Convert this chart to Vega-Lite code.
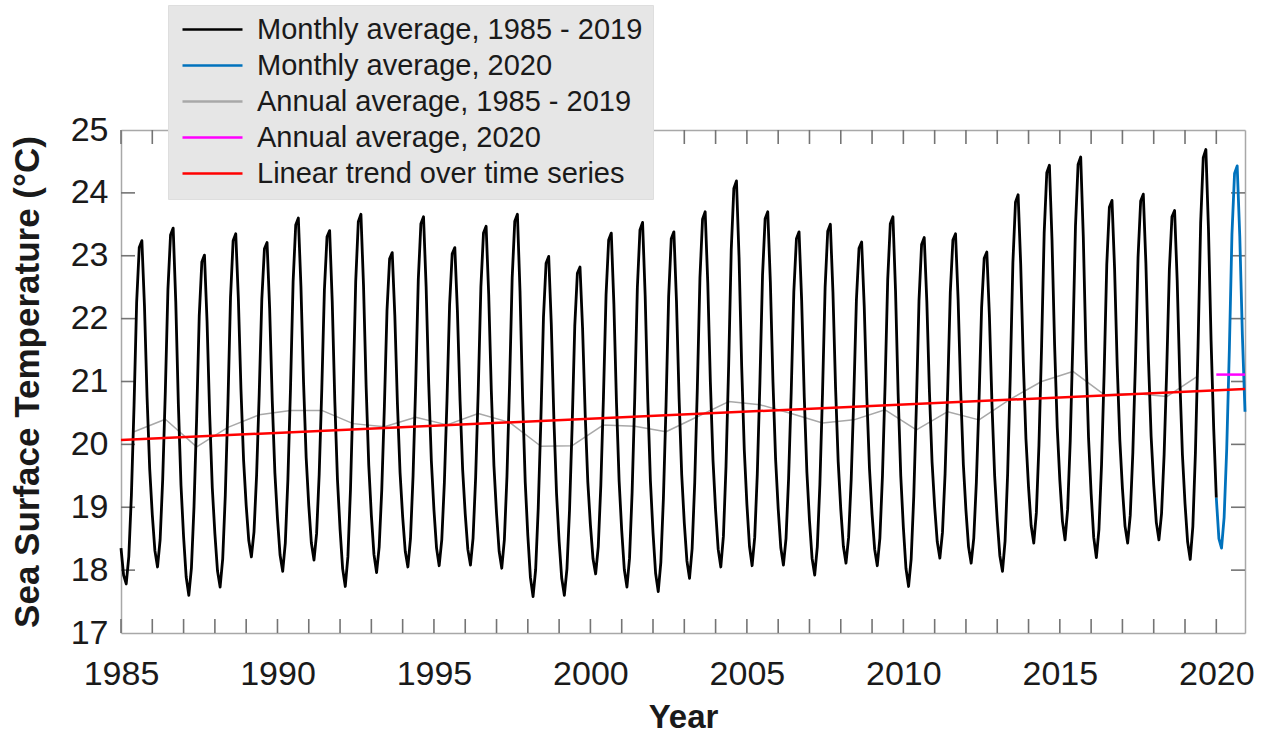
{
  "$schema": "https://vega.github.io/schema/vega-lite/v6.json",
  "width": 1124,
  "height": 503,
  "autosize": "none",
  "padding": {"left": 121, "top": 130, "right": 20, "bottom": 101},
  "background": "white",
  "datasets": {
    "xticks": [{"yr":1985},{"yr":1986},{"yr":1987},{"yr":1988},{"yr":1989},{"yr":1990},{"yr":1991},{"yr":1992},{"yr":1993},{"yr":1994},{"yr":1995},{"yr":1996},{"yr":1997},{"yr":1998},{"yr":1999},{"yr":2000},{"yr":2001},{"yr":2002},{"yr":2003},{"yr":2004},{"yr":2005},{"yr":2006},{"yr":2007},{"yr":2008},{"yr":2009},{"yr":2010},{"yr":2011},{"yr":2012},{"yr":2013},{"yr":2014},{"yr":2015},{"yr":2016},{"yr":2017},{"yr":2018},{"yr":2019},{"yr":2020}],
    "yticks": [{"val":18},{"val":19},{"val":20},{"val":21},{"val":22},{"val":23},{"val":24}],
    "monthly": [
      {"t":1985,"v":18.35},{"t":1985.083,"v":17.92},{"t":1985.167,"v":17.78},{"t":1985.25,"v":18.22},{"t":1985.333,"v":19.2},{"t":1985.417,"v":20.62},{"t":1985.5,"v":22.26},{"t":1985.583,"v":23.13},{"t":1985.667,"v":23.24},{"t":1985.75,"v":22.2},{"t":1985.833,"v":20.75},{"t":1985.917,"v":19.61},
      {"t":1986,"v":18.88},{"t":1986.083,"v":18.31},{"t":1986.167,"v":18.05},{"t":1986.25,"v":18.48},{"t":1986.333,"v":19.45},{"t":1986.417,"v":20.85},{"t":1986.5,"v":22.47},{"t":1986.583,"v":23.33},{"t":1986.667,"v":23.44},{"t":1986.75,"v":22.27},{"t":1986.833,"v":20.64},{"t":1986.917,"v":19.35},
      {"t":1987,"v":18.53},{"t":1987.083,"v":17.89},{"t":1987.167,"v":17.6},{"t":1987.25,"v":18.03},{"t":1987.333,"v":19.01},{"t":1987.417,"v":20.41},{"t":1987.5,"v":22.04},{"t":1987.583,"v":22.9},{"t":1987.667,"v":23.01},{"t":1987.75,"v":21.95},{"t":1987.833,"v":20.48},{"t":1987.917,"v":19.31},
      {"t":1988,"v":18.58},{"t":1988.083,"v":17.99},{"t":1988.167,"v":17.73},{"t":1988.25,"v":18.18},{"t":1988.333,"v":19.19},{"t":1988.417,"v":20.65},{"t":1988.5,"v":22.34},{"t":1988.583,"v":23.24},{"t":1988.667,"v":23.35},{"t":1988.75,"v":22.32},{"t":1988.833,"v":20.88},{"t":1988.917,"v":19.75},
      {"t":1989,"v":19.03},{"t":1989.083,"v":18.47},{"t":1989.167,"v":18.21},{"t":1989.25,"v":18.61},{"t":1989.333,"v":19.51},{"t":1989.417,"v":20.81},{"t":1989.5,"v":22.31},{"t":1989.583,"v":23.11},{"t":1989.667,"v":23.21},{"t":1989.75,"v":22.16},{"t":1989.833,"v":20.7},{"t":1989.917,"v":19.55},
      {"t":1990,"v":18.82},{"t":1990.083,"v":18.24},{"t":1990.167,"v":17.98},{"t":1990.25,"v":18.43},{"t":1990.333,"v":19.44},{"t":1990.417,"v":20.9},{"t":1990.5,"v":22.59},{"t":1990.583,"v":23.49},{"t":1990.667,"v":23.6},{"t":1990.75,"v":22.51},{"t":1990.833,"v":20.99},{"t":1990.917,"v":19.79},
      {"t":1991,"v":19.03},{"t":1991.083,"v":18.43},{"t":1991.167,"v":18.16},{"t":1991.25,"v":18.58},{"t":1991.333,"v":19.52},{"t":1991.417,"v":20.89},{"t":1991.5,"v":22.46},{"t":1991.583,"v":23.3},{"t":1991.667,"v":23.4},{"t":1991.75,"v":22.27},{"t":1991.833,"v":20.68},{"t":1991.917,"v":19.44},
      {"t":1992,"v":18.65},{"t":1992.083,"v":18.02},{"t":1992.167,"v":17.74},{"t":1992.25,"v":18.21},{"t":1992.333,"v":19.28},{"t":1992.417,"v":20.82},{"t":1992.5,"v":22.59},{"t":1992.583,"v":23.54},{"t":1992.667,"v":23.66},{"t":1992.75,"v":22.52},{"t":1992.833,"v":20.92},{"t":1992.917,"v":19.67},
      {"t":1993,"v":18.87},{"t":1993.083,"v":18.25},{"t":1993.167,"v":17.96},{"t":1993.25,"v":18.37},{"t":1993.333,"v":19.28},{"t":1993.417,"v":20.61},{"t":1993.5,"v":22.13},{"t":1993.583,"v":22.95},{"t":1993.667,"v":23.05},{"t":1993.75,"v":22.05},{"t":1993.833,"v":20.65},{"t":1993.917,"v":19.55},
      {"t":1994,"v":18.85},{"t":1994.083,"v":18.3},{"t":1994.167,"v":18.05},{"t":1994.25,"v":18.5},{"t":1994.333,"v":19.5},{"t":1994.417,"v":20.95},{"t":1994.5,"v":22.62},{"t":1994.583,"v":23.51},{"t":1994.667,"v":23.62},{"t":1994.75,"v":22.51},{"t":1994.833,"v":20.96},{"t":1994.917,"v":19.74},
      {"t":1995,"v":18.96},{"t":1995.083,"v":18.35},{"t":1995.167,"v":18.07},{"t":1995.25,"v":18.48},{"t":1995.333,"v":19.39},{"t":1995.417,"v":20.7},{"t":1995.5,"v":22.22},{"t":1995.583,"v":23.03},{"t":1995.667,"v":23.13},{"t":1995.75,"v":22.12},{"t":1995.833,"v":20.71},{"t":1995.917,"v":19.6},
      {"t":1996,"v":18.89},{"t":1996.083,"v":18.33},{"t":1996.167,"v":18.08},{"t":1996.25,"v":18.51},{"t":1996.333,"v":19.48},{"t":1996.417,"v":20.88},{"t":1996.5,"v":22.5},{"t":1996.583,"v":23.36},{"t":1996.667,"v":23.47},{"t":1996.75,"v":22.38},{"t":1996.833,"v":20.86},{"t":1996.917,"v":19.66},
      {"t":1997,"v":18.9},{"t":1997.083,"v":18.3},{"t":1997.167,"v":18.03},{"t":1997.25,"v":18.48},{"t":1997.333,"v":19.49},{"t":1997.417,"v":20.96},{"t":1997.5,"v":22.65},{"t":1997.583,"v":23.55},{"t":1997.667,"v":23.66},{"t":1997.75,"v":22.44},{"t":1997.833,"v":20.74},{"t":1997.917,"v":19.4},
      {"t":1998,"v":18.55},{"t":1998.083,"v":17.88},{"t":1998.167,"v":17.58},{"t":1998.25,"v":18.01},{"t":1998.333,"v":18.99},{"t":1998.417,"v":20.39},{"t":1998.5,"v":22.02},{"t":1998.583,"v":22.88},{"t":1998.667,"v":22.99},{"t":1998.75,"v":21.91},{"t":1998.833,"v":20.4},{"t":1998.917,"v":19.22},
      {"t":1999,"v":18.46},{"t":1999.083,"v":17.87},{"t":1999.167,"v":17.6},{"t":1999.25,"v":18.02},{"t":1999.333,"v":18.96},{"t":1999.417,"v":20.31},{"t":1999.5,"v":21.88},{"t":1999.583,"v":22.72},{"t":1999.667,"v":22.82},{"t":1999.75,"v":21.84},{"t":1999.833,"v":20.48},{"t":1999.917,"v":19.4},
      {"t":2000,"v":18.72},{"t":2000.083,"v":18.18},{"t":2000.167,"v":17.94},{"t":2000.25,"v":18.37},{"t":2000.333,"v":19.35},{"t":2000.417,"v":20.76},{"t":2000.5,"v":22.38},{"t":2000.583,"v":23.25},{"t":2000.667,"v":23.36},{"t":2000.75,"v":22.23},{"t":2000.833,"v":20.66},{"t":2000.917,"v":19.42},
      {"t":2001,"v":18.63},{"t":2001.083,"v":18.01},{"t":2001.167,"v":17.73},{"t":2001.25,"v":18.19},{"t":2001.333,"v":19.24},{"t":2001.417,"v":20.75},{"t":2001.5,"v":22.49},{"t":2001.583,"v":23.41},{"t":2001.667,"v":23.53},{"t":2001.75,"v":22.36},{"t":2001.833,"v":20.71},{"t":2001.917,"v":19.42},
      {"t":2002,"v":18.6},{"t":2002.083,"v":17.95},{"t":2002.167,"v":17.66},{"t":2002.25,"v":18.12},{"t":2002.333,"v":19.15},{"t":2002.417,"v":20.63},{"t":2002.5,"v":22.35},{"t":2002.583,"v":23.27},{"t":2002.667,"v":23.38},{"t":2002.75,"v":22.28},{"t":2002.833,"v":20.74},{"t":2002.917,"v":19.52},
      {"t":2003,"v":18.75},{"t":2003.083,"v":18.15},{"t":2003.167,"v":17.87},{"t":2003.25,"v":18.34},{"t":2003.333,"v":19.39},{"t":2003.417,"v":20.9},{"t":2003.5,"v":22.65},{"t":2003.583,"v":23.58},{"t":2003.667,"v":23.7},{"t":2003.75,"v":22.57},{"t":2003.833,"v":20.99},{"t":2003.917,"v":19.75},
      {"t":2004,"v":18.95},{"t":2004.083,"v":18.33},{"t":2004.167,"v":18.05},{"t":2004.25,"v":18.54},{"t":2004.333,"v":19.65},{"t":2004.417,"v":21.24},{"t":2004.5,"v":23.09},{"t":2004.583,"v":24.07},{"t":2004.667,"v":24.19},{"t":2004.75,"v":22.97},{"t":2004.833,"v":21.25},{"t":2004.917,"v":19.91},
      {"t":2005,"v":19.05},{"t":2005.083,"v":18.38},{"t":2005.167,"v":18.07},{"t":2005.25,"v":18.52},{"t":2005.333,"v":19.53},{"t":2005.417,"v":21},{"t":2005.5,"v":22.69},{"t":2005.583,"v":23.59},{"t":2005.667,"v":23.7},{"t":2005.75,"v":22.58},{"t":2005.833,"v":21},{"t":2005.917,"v":19.77},
      {"t":2006,"v":18.98},{"t":2006.083,"v":18.36},{"t":2006.167,"v":18.08},{"t":2006.25,"v":18.5},{"t":2006.333,"v":19.46},{"t":2006.417,"v":20.84},{"t":2006.5,"v":22.43},{"t":2006.583,"v":23.27},{"t":2006.667,"v":23.38},{"t":2006.75,"v":22.29},{"t":2006.833,"v":20.76},{"t":2006.917,"v":19.56},
      {"t":2007,"v":18.79},{"t":2007.083,"v":18.19},{"t":2007.167,"v":17.92},{"t":2007.25,"v":18.37},{"t":2007.333,"v":19.37},{"t":2007.417,"v":20.82},{"t":2007.5,"v":22.5},{"t":2007.583,"v":23.39},{"t":2007.667,"v":23.5},{"t":2007.75,"v":22.42},{"t":2007.833,"v":20.91},{"t":2007.917,"v":19.73},
      {"t":2008,"v":18.97},{"t":2008.083,"v":18.38},{"t":2008.167,"v":18.11},{"t":2008.25,"v":18.52},{"t":2008.333,"v":19.44},{"t":2008.417,"v":20.77},{"t":2008.5,"v":22.3},{"t":2008.583,"v":23.12},{"t":2008.667,"v":23.22},{"t":2008.75,"v":22.19},{"t":2008.833,"v":20.75},{"t":2008.917,"v":19.62},
      {"t":2009,"v":18.89},{"t":2009.083,"v":18.33},{"t":2009.167,"v":18.07},{"t":2009.25,"v":18.51},{"t":2009.333,"v":19.51},{"t":2009.417,"v":20.96},{"t":2009.5,"v":22.62},{"t":2009.583,"v":23.51},{"t":2009.667,"v":23.62},{"t":2009.75,"v":22.44},{"t":2009.833,"v":20.8},{"t":2009.917,"v":19.5},
      {"t":2010,"v":18.68},{"t":2010.083,"v":18.03},{"t":2010.167,"v":17.74},{"t":2010.25,"v":18.18},{"t":2010.333,"v":19.18},{"t":2010.417,"v":20.63},{"t":2010.5,"v":22.29},{"t":2010.583,"v":23.18},{"t":2010.667,"v":23.29},{"t":2010.75,"v":22.27},{"t":2010.833,"v":20.84},{"t":2010.917,"v":19.72},
      {"t":2011,"v":19.01},{"t":2011.083,"v":18.45},{"t":2011.167,"v":18.19},{"t":2011.25,"v":18.6},{"t":2011.333,"v":19.53},{"t":2011.417,"v":20.87},{"t":2011.5,"v":22.42},{"t":2011.583,"v":23.25},{"t":2011.667,"v":23.35},{"t":2011.75,"v":22.3},{"t":2011.833,"v":20.84},{"t":2011.917,"v":19.68},
      {"t":2012,"v":18.95},{"t":2012.083,"v":18.37},{"t":2012.167,"v":18.11},{"t":2012.25,"v":18.51},{"t":2012.333,"v":19.4},{"t":2012.417,"v":20.68},{"t":2012.5,"v":22.17},{"t":2012.583,"v":22.96},{"t":2012.667,"v":23.06},{"t":2012.75,"v":22.04},{"t":2012.833,"v":20.62},{"t":2012.917,"v":19.5},
      {"t":2013,"v":18.79},{"t":2013.083,"v":18.23},{"t":2013.167,"v":17.98},{"t":2013.25,"v":18.46},{"t":2013.333,"v":19.54},{"t":2013.417,"v":21.1},{"t":2013.5,"v":22.89},{"t":2013.583,"v":23.85},{"t":2013.667,"v":23.97},{"t":2013.75,"v":22.86},{"t":2013.833,"v":21.31},{"t":2013.917,"v":20.09},
      {"t":2014,"v":19.32},{"t":2014.083,"v":18.71},{"t":2014.167,"v":18.43},{"t":2014.25,"v":18.91},{"t":2014.333,"v":19.99},{"t":2014.417,"v":21.56},{"t":2014.5,"v":23.36},{"t":2014.583,"v":24.32},{"t":2014.667,"v":24.44},{"t":2014.75,"v":23.25},{"t":2014.833,"v":21.58},{"t":2014.917,"v":20.27},
      {"t":2015,"v":19.43},{"t":2015.083,"v":18.78},{"t":2015.167,"v":18.48},{"t":2015.25,"v":18.97},{"t":2015.333,"v":20.06},{"t":2015.417,"v":21.65},{"t":2015.5,"v":23.47},{"t":2015.583,"v":24.45},{"t":2015.667,"v":24.57},{"t":2015.75,"v":23.3},{"t":2015.833,"v":21.51},{"t":2015.917,"v":20.11},
      {"t":2016,"v":19.22},{"t":2016.083,"v":18.52},{"t":2016.167,"v":18.2},{"t":2016.25,"v":18.65},{"t":2016.333,"v":19.68},{"t":2016.417,"v":21.15},{"t":2016.5,"v":22.86},{"t":2016.583,"v":23.77},{"t":2016.667,"v":23.88},{"t":2016.75,"v":22.79},{"t":2016.833,"v":21.26},{"t":2016.917,"v":20.07},
      {"t":2017,"v":19.3},{"t":2017.083,"v":18.7},{"t":2017.167,"v":18.43},{"t":2017.25,"v":18.87},{"t":2017.333,"v":19.87},{"t":2017.417,"v":21.32},{"t":2017.5,"v":22.98},{"t":2017.583,"v":23.87},{"t":2017.667,"v":23.98},{"t":2017.75,"v":22.88},{"t":2017.833,"v":21.34},{"t":2017.917,"v":20.13},
      {"t":2018,"v":19.36},{"t":2018.083,"v":18.76},{"t":2018.167,"v":18.48},{"t":2018.25,"v":18.9},{"t":2018.333,"v":19.84},{"t":2018.417,"v":21.21},{"t":2018.5,"v":22.78},{"t":2018.583,"v":23.62},{"t":2018.667,"v":23.72},{"t":2018.75,"v":22.61},{"t":2018.833,"v":21.06},{"t":2018.917,"v":19.84},
      {"t":2019,"v":19.06},{"t":2019.083,"v":18.45},{"t":2019.167,"v":18.17},{"t":2019.25,"v":18.69},{"t":2019.333,"v":19.87},{"t":2019.417,"v":21.56},{"t":2019.5,"v":23.52},{"t":2019.583,"v":24.56},{"t":2019.667,"v":24.69},{"t":2019.75,"v":23.42},{"t":2019.833,"v":21.65},{"t":2019.917,"v":20.25},
      {"t":2020,"v":19.15}
    ],
    "monthly2020": [
      {"t":2020,"v":19.15},{"t":2020.083,"v":18.5},{"t":2020.167,"v":18.35},{"t":2020.25,"v":18.84},{"t":2020.333,"v":19.93},{"t":2020.417,"v":21.51},{"t":2020.5,"v":23.34},{"t":2020.583,"v":24.31},{"t":2020.667,"v":24.43},{"t":2020.75,"v":23.31},{"t":2020.833,"v":21.74},{"t":2020.917,"v":20.52}
    ],
    "annual": [
      {"t":1985.417,"v":20.2},{"t":1986.417,"v":20.4},{"t":1987.417,"v":19.96},{"t":1988.417,"v":20.27},{"t":1989.417,"v":20.47},{"t":1990.417,"v":20.54},{"t":1991.417,"v":20.54},{"t":1992.417,"v":20.33},{"t":1993.417,"v":20.28},{"t":1994.417,"v":20.43},{"t":1995.417,"v":20.31},{"t":1996.417,"v":20.49},{"t":1997.417,"v":20.35},{"t":1998.417,"v":19.97},{"t":1999.417,"v":19.98},{"t":2000.417,"v":20.31},{"t":2001.417,"v":20.29},{"t":2002.417,"v":20.2},{"t":2003.417,"v":20.44},{"t":2004.417,"v":20.68},{"t":2005.417,"v":20.63},{"t":2006.417,"v":20.49},{"t":2007.417,"v":20.34},{"t":2008.417,"v":20.39},{"t":2009.417,"v":20.55},{"t":2010.417,"v":20.23},{"t":2011.417,"v":20.52},{"t":2012.417,"v":20.39},{"t":2013.417,"v":20.72},{"t":2014.417,"v":21},{"t":2015.417,"v":21.16},{"t":2016.417,"v":20.79},{"t":2017.417,"v":20.81},{"t":2018.417,"v":20.76},{"t":2019.417,"v":21.09}
    ],
    "annual2020": [{"t":2020,"v":21.11},{"t":2020.917,"v":21.11}],
    "trend": [{"t":1985,"v":20.07},{"t":2020.917,"v":20.88}]
  },
  "layer": [
    {
      "data": {"name": "xticks"},
      "mark": {"type": "tick", "orient": "vertical", "size": 14, "thickness": 1.6, "color": "#747474", "opacity": 1, "yOffset": -7},
      "encoding": {
        "x": {"field": "yr", "type": "quantitative", "axis": null, "scale": {"domain": [1985, 2020.917], "nice": false, "zero": false}},
        "y": {"datum": 17, "type": "quantitative", "axis": null}
      }
    },
    {
      "data": {"name": "xticks"},
      "mark": {"type": "tick", "orient": "vertical", "size": 14, "thickness": 1.6, "color": "#747474", "opacity": 1, "yOffset": 7},
      "encoding": {
        "x": {"field": "yr", "type": "quantitative", "axis": null},
        "y": {"datum": 25, "type": "quantitative", "axis": null}
      }
    },
    {
      "data": {"name": "yticks"},
      "mark": {"type": "tick", "orient": "horizontal", "size": 14, "thickness": 1.6, "color": "#747474", "opacity": 1, "xOffset": 7},
      "encoding": {
        "y": {"field": "val", "type": "quantitative", "axis": null, "scale": {"domain": [17, 25], "nice": false, "zero": false}},
        "x": {"datum": 1985, "type": "quantitative", "axis": null}
      }
    },
    {
      "data": {"name": "yticks"},
      "mark": {"type": "tick", "orient": "horizontal", "size": 14, "thickness": 1.6, "color": "#747474", "opacity": 1, "xOffset": -7},
      "encoding": {
        "y": {"field": "val", "type": "quantitative", "axis": null},
        "x": {"datum": 2020.917, "type": "quantitative", "axis": null}
      }
    },
    {
      "data": {"name": "annual"},
      "mark": {"type": "line", "strokeWidth": 1.5, "strokeJoin": "round"},
      "encoding": {
        "x": {"field": "t", "type": "quantitative", "scale": {"domain": [1985, 2020.917], "nice": false, "zero": false},
          "axis": {"orient": "top", "values": [1985, 2020], "labels": false, "title": null, "ticks": false, "domain": true, "grid": false}},
        "y": {"field": "v", "type": "quantitative", "scale": {"domain": [17, 25], "nice": false, "zero": false},
          "axis": {"orient": "right", "values": [17, 25], "labels": false, "title": null, "ticks": false, "domain": true, "grid": false}},
        "color": {"datum": "Annual average, 1985 - 2019", "type": "nominal"}
      }
    },
    {
      "data": {"name": "monthly"},
      "mark": {"type": "line", "strokeWidth": 2.8, "strokeJoin": "round"},
      "encoding": {
        "x": {"field": "t", "type": "quantitative", "scale": {"domain": [1985, 2020.917], "nice": false, "zero": false},
          "axis": {"orient": "bottom", "values": [1985,1990,1995,2000,2005,2010,2015,2020],
            "format": "d", "labelFlush": false, "labelOverlap": false, "labelPadding": 24,
            "ticks": false, "domain": true, "grid": false,
            "title": "Year", "titlePadding": 10, "titleFontSize": 33}},
        "y": {"field": "v", "type": "quantitative", "scale": {"domain": [17, 25], "nice": false, "zero": false},
          "axis": {"orient": "left", "values": [17,18,19,20,21,22,23,24,25], "labelPadding": 13, "labelBaseline": "middle",
            "ticks": false, "domain": true, "grid": false,
            "title": "Sea Surface Temperature (°C)", "titlePadding": 25, "titleFontSize": 35}},
        "color": {"datum": "Monthly average, 1985 - 2019", "type": "nominal",
          "scale": {"domain": ["Monthly average, 1985 - 2019", "Monthly average, 2020", "Annual average, 1985 - 2019", "Annual average, 2020", "Linear trend over time series"],
                    "range": ["#000000", "#0072bd", "#a8a8a8", "#ff00ff", "#ff0000"]}}
      }
    },
    {
      "data": {"name": "monthly2020"},
      "mark": {"type": "line", "strokeWidth": 2.8, "strokeJoin": "round"},
      "encoding": {
        "x": {"field": "t", "type": "quantitative", "axis": null},
        "y": {"field": "v", "type": "quantitative", "axis": null},
        "color": {"datum": "Monthly average, 2020", "type": "nominal"}
      }
    },
    {
      "data": {"name": "annual2020"},
      "mark": {"type": "line", "strokeWidth": 2.5},
      "encoding": {
        "x": {"field": "t", "type": "quantitative", "axis": null},
        "y": {"field": "v", "type": "quantitative", "axis": null},
        "color": {"datum": "Annual average, 2020", "type": "nominal"}
      }
    },
    {
      "data": {"name": "trend"},
      "mark": {"type": "line", "strokeWidth": 2.5},
      "encoding": {
        "x": {"field": "t", "type": "quantitative", "axis": null},
        "y": {"field": "v", "type": "quantitative", "axis": null},
        "color": {"datum": "Linear trend over time series", "type": "nominal"}
      }
    }
  ],
  "resolve": {"axis": {"x": "independent", "y": "independent"}},
  "config": {
    "font": "Liberation Sans",
    "view": {"stroke": null},
    "axis": {
      "domainColor": "#a8a8a8",
      "domainWidth": 1.5,
      "labelColor": "#1a1a1a",
      "titleColor": "#1a1a1a",
      "labelFont": "Liberation Sans",
      "titleFont": "Liberation Sans",
      "labelFontSize": 34,
      "titleFontWeight": "bold"
    },
    "legend": {
      "orient": "none",
      "legendX": 47,
      "legendY": -125,
      "title": null,
      "fillColor": "#e6e6e6",
      "strokeColor": "#dedede",
      "padding": 10,
      "cornerRadius": 0,
      "labelFont": "Liberation Sans",
      "labelFontSize": 29,
      "labelColor": "#1a1a1a",
      "labelLimit": 800,
      "symbolType": "M-3,0H3",
      "symbolSize": 400,
      "symbolStrokeWidth": 2.5,
      "symbolOffset": 20,
      "labelOffset": 30,
      "rowPadding": 6,
      "zindex": 5
    }
  }
}
